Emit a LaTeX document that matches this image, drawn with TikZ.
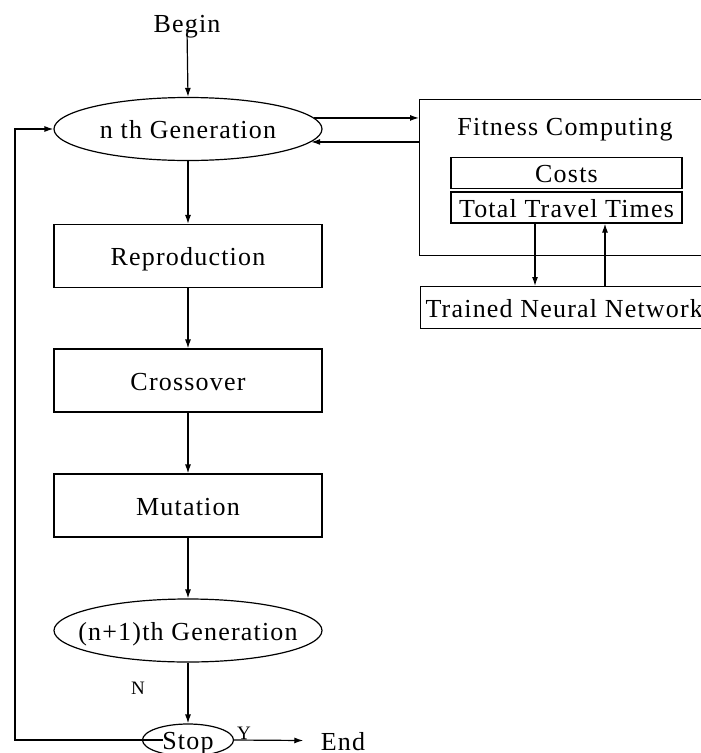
\documentclass[tikz,border=0pt]{standalone}
\usepackage{fontspec}
\setmainfont{Liberation Serif}[LetterSpace=4.6]
\usetikzlibrary{shapes.geometric,arrows.meta}
\begin{document}
\begin{tikzpicture}[x=1pt,y=-1pt,
  line width=1.2pt,
  every node/.style={font=\fontsize{26}{30}\selectfont, inner sep=0pt, text height=19pt, text depth=0pt},
  box/.style={draw, rectangle, minimum width=268pt, minimum height=63pt},
  gen/.style={draw, ellipse, inner xsep=-60pt, minimum width=268pt, minimum height=63pt},
  sub/.style={draw, rectangle, minimum width=231pt, minimum height=31pt},
  arr/.style={-{Latex[length=9pt,width=6pt]}},
  small/.style={font=\fontsize{19}{22}\selectfont, text height=13pt}]
\useasboundingbox (0,0) rectangle (701,753);
\clip (0,0) rectangle (701,753);

% main column
\node (begin) at (187,22.5) {Begin};
\node[gen] (nth) at (188,129) {n th Generation};
\node[box] (rep) at (188,256) {Reproduction};
\node[box] (cross) at (188,380.5) {Crossover};
\node[box] (mut) at (188,505.5) {Mutation};
\node[gen] (np1) at (188,630.5) {(n+1)th Generation};
\node[draw, ellipse, inner xsep=-20pt, minimum width=91pt, minimum height=32pt] (stop) at (188,740) {Stop};
\node (end) at (343,740.5) {End};
\node[small] (nlab) at (138,688) {N};
\node[small] (ylab) at (244,733) {Y};

% right side
\node[draw, minimum width=302pt, minimum height=156pt, anchor=north west] (fit) at (419,99) {};
\node (fittxt) at (565,125.5) {Fitness Computing};
\node[sub] (costs) at (566.5,173) {Costs};
\node[sub] (ttt) at (566.5,207.5) {Total Travel Times};
\node[draw, anchor=north west, inner xsep=5pt, minimum height=42pt] (tnn) at (420,286) {Trained Neural Network};

% connectors
\draw[arr] ([yshift=3pt]begin.south) -- (nth.north);
\draw[arr] (nth.south) -- (rep.north);
\draw[arr] (rep.south) -- (cross.north);
\draw[arr] (cross.south) -- (mut.north);
\draw[arr] (mut.south) -- (np1.north);
\draw[arr] (np1.south) -- (stop.north);
\draw[arr] (stop.east) -- ([xshift=-17pt]end.west);
\draw[arr] ([xshift=-25pt]stop.center) -- ++(-148,0) |- (nth.west);

\draw[arr] (nth.5) -- (nth.5 -| fit.west);
\draw[arr] (fit.west |- nth.-6) -- (nth.-6);

\draw[arr] ([xshift=-31.5pt]ttt.south) -- ([xshift=-31.5pt]ttt.south |- tnn.north);
\draw[arr] ([xshift=38.5pt]ttt.south |- tnn.north) -- ([xshift=38.5pt]ttt.south);
\end{tikzpicture}
\end{document}
